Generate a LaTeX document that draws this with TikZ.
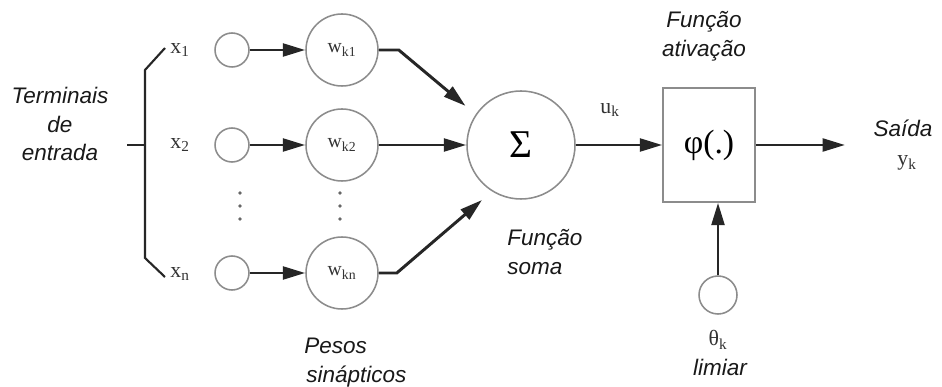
\documentclass[tikz,border=0pt]{standalone}
\usepackage{fontspec}
\setmainfont{Liberation Serif}
\newfontfamily\capfont{Liberation Sans}
\usetikzlibrary{arrows.meta, positioning}

\begin{document}
\begin{tikzpicture}[
    inner sep=0pt,
    sig/.style={
        -{Triangle[length=0.56cm,width=0.32cm]},
        line width=2.1pt,
        black!85
    },
    inp/.style={circle, draw=black!45, line width=1.1pt, minimum size=0.85cm},
    weight/.style={circle, draw=black!45, line width=1.1pt, minimum size=1.8cm,
        font=\fontsize{14}{16}\selectfont, text=black!80},
    sumnode/.style={circle, draw=black!45, line width=1.1pt, minimum size=2.7cm,
        font=\fontsize{28}{30}\selectfont},
    actbox/.style={rectangle, draw=black!45, line width=1.1pt,
        minimum width=2.3cm, minimum height=2.85cm,
        font=\fontsize{24}{26}\selectfont},
    var/.style={font=\fontsize{15.5}{17}\selectfont, text=black!80},
    caption/.style={font=\capfont\itshape\fontsize{16}{20.6}\selectfont, text=black!90},
    dots/.style={circle, fill=black!60, minimum size=0.09cm}
]

\fill[white] (0,0) rectangle (23.55,-9.675);
\useasboundingbox (0,0) rectangle (23.55,-9.675);

% entradas
\node[caption, align=center] (term) at (1.5,-3.1) {Terminais\\de\\entrada};
\node[var] (x1) at (4.5,-1.25) {x\textsubscript{1}};
\node[var] (x2) at (4.5,-3.625) {x\textsubscript{2}};
\node[var] (xn) at (4.5,-6.85) {x\textsubscript{n}};

\coordinate (bmid) at (3.625,-3.625);
\coordinate (btop) at (3.625,-1.75);
\coordinate (bbot) at (3.625,-6.45);
\draw[line width=1.5pt, black!85] (3.175,-3.625) -- (bmid);
\draw[line width=1.5pt, black!85] (4.125,-1.2) -- (btop) -- (bbot) -- (4.125,-6.925);

\node[inp] (in1) at (5.8,-1.25) {};
\node[inp] (in2) at (5.8,-3.625) {};
\node[inp] (inn) at (5.8,-6.825) {};

% pesos
\node[weight] (w1) at (8.55,-1.25) {w\textsubscript{k1}};
\node[weight] (w2) at (8.55,-3.625) {w\textsubscript{k2}};
\node[weight] (wn) at (8.55,-6.825) {w\textsubscript{kn}};

\node[dots] (d1) at (6.0,-4.825) {};
\node[dots] (d2) at (6.0,-5.15) {};
\node[dots] (d3) at (6.0,-5.475) {};
\node[dots] (e1) at (8.5,-4.825) {};
\node[dots] (e2) at (8.5,-5.15) {};
\node[dots] (e3) at (8.5,-5.475) {};

\node[caption, align=left, anchor=north west] (pesos) at (7.6,-8.45) {Pesos\\\hspace*{0.05cm}sinápticos};

% soma e ativacao
\node[sumnode] (sum) at (13.025,-3.625) {Σ};
\node[caption, align=left, anchor=north west] (soma) at (12.675,-5.72) {Função\\soma};

\node[actbox] (phi) at (17.725,-3.625) {φ(.)};
\node[caption, align=center] (ativ) at (17.6,-0.9) {Função\\ativação};
\node[var] (uk) at (15.25,-2.75) {u\textsubscript{k}};

\node[inp, minimum size=0.95cm] (theta) at (17.95,-7.375) {};
\node[var] (thk) at (17.95,-8.5) {θ\textsubscript{k}};
\node[caption] (lim) at (18.0,-9.175) {limiar};

\coordinate (out) at (21.125,-3.625);
\node[caption] (saida) at (22.575,-3.2) {Saída};
\node[var] (yk) at (22.675,-4.075) {y\textsubscript{k}};

% conexoes
\draw[sig] (in1) -- (w1);
\draw[sig] (in2) -- (w2);
\draw[sig] (inn) -- (wn);

\draw[sig, shorten >=0.33cm] (w1.east) -- ++(0.5,0) -- (sum.146);
\draw[sig] (w2) -- (sum);
\draw[sig, shorten >=0.33cm] (wn.east) -- ++(0.45,0) -- (sum.238);

\draw[sig] (sum) -- (phi);
\draw[sig] (phi) -- (out);
\draw[sig] (theta.north) -- (theta.north |- phi.south);

\end{tikzpicture}
\end{document}
